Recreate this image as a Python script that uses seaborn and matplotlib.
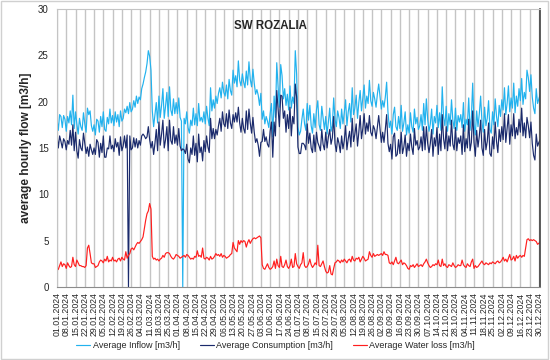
import matplotlib
matplotlib.use("Agg")
import matplotlib.pyplot as plt
from matplotlib.patches import Rectangle
import pandas as pd
import seaborn as sns

# daily values for 2024, one row per month
inflow = [
    18.2, 16.9, 18.6, 18.4, 17.2, 18.5, 18.1, 16.8, 18.4, 17.7, 19.0, 17.5, 20.7, 17.1, 18.9, 17.6, 16.5, 18.2, 17.3, 16.9, 18.8, 17.6, 16.7, 19.3, 18.6, 19.0, 17.4, 16.8, 17.5, 16.4, 18.1,
    17.9, 16.7, 18.4, 17.3, 18.9, 17.0, 16.8, 18.3, 17.6, 19.2, 17.7, 18.5, 17.4, 18.9, 17.8, 18.6, 17.3, 19.0, 17.9, 18.2, 19.2, 18.8, 19.5, 18.7, 19.9, 18.9, 19.2, 20.1, 19.4,
    20.6, 19.8, 20.5, 20.2, 21.4, 21.9, 22.6, 23.2, 24.1, 25.5, 24.9, 23.4, 19.0, 17.3, 18.6, 19.9, 17.7, 20.6, 18.3, 19.6, 21.4, 18.2, 19.5, 21.0, 18.4, 21.6, 19.1, 18.5, 20.3, 18.7, 19.9,
    18.7, 20.4, 18.3, 17.9, 0.0, 18.2, 17.6, 18.9, 17.2, 16.6, 18.0, 17.4, 19.3, 17.5, 18.7, 17.4, 19.8, 17.9, 18.3, 17.8, 18.9, 17.6, 19.5, 18.2, 17.4, 21.5, 19.0, 20.2, 19.3, 20.6,
    19.8, 20.9, 21.5, 20.4, 22.1, 21.0, 20.6, 21.8, 20.3, 22.4, 21.2, 20.7, 23.4, 22.0, 22.8, 21.6, 24.4, 22.3, 21.7, 23.0, 22.1, 21.5, 23.3, 21.8, 24.3, 22.4, 21.6, 23.5, 22.0, 20.8, 21.3,
    20.7, 19.6, 20.9, 18.1, 19.0, 17.6, 18.4, 17.9, 17.2, 18.7, 19.8, 16.2, 20.6, 18.3, 24.2, 21.6, 19.4, 24.0, 22.8, 20.3, 21.4, 19.6, 20.8, 19.1, 21.7, 19.3, 20.5, 19.8, 25.5, 23.0,
    17.3, 16.4, 16.8, 18.1, 19.2, 17.6, 16.9, 19.8, 18.0, 19.6, 17.4, 16.6, 18.7, 17.2, 19.1, 20.1, 17.5, 16.9, 19.5, 18.2, 17.0, 18.4, 16.5, 17.8, 19.3, 16.8, 17.4, 20.4, 18.1, 17.3, 19.0,
    18.3, 17.1, 19.2, 17.6, 18.8, 20.2, 17.4, 18.9, 19.8, 17.8, 21.5, 18.6, 19.3, 20.7, 18.2, 19.9, 21.2, 19.0, 20.4, 21.8, 19.3, 20.6, 19.8, 22.3, 20.1, 19.5, 21.0, 20.3, 19.4, 20.8, 21.9,
    20.6, 19.2, 20.1, 19.4, 20.5, 22.1, 18.9, 17.2, 17.9, 16.5, 18.6, 19.4, 17.3, 16.9, 18.4, 17.1, 19.6, 16.8, 17.7, 18.9, 16.4, 17.5, 16.6, 18.8, 17.3, 16.7, 19.2, 17.6, 18.3, 17.0,
    17.4, 18.6, 16.9, 19.8, 17.5, 20.3, 18.1, 16.8, 17.6, 19.2, 16.5, 18.4, 17.7, 19.6, 17.2, 18.8, 16.9, 21.6, 18.3, 17.4, 19.5, 16.8, 18.7, 17.5, 20.2, 18.0, 17.1, 19.3, 16.9, 18.5, 17.8,
    18.6, 17.2, 19.9, 16.8, 18.1, 17.5, 20.4, 16.9, 18.3, 22.0, 17.6, 16.4, 19.0, 17.3, 18.7, 20.6, 17.8, 16.7, 19.4, 17.4, 18.2, 20.1, 17.0, 16.6, 18.9, 17.5, 20.3, 18.4, 17.3, 19.6,
    18.4, 20.2, 19.1, 21.5, 18.6, 19.8, 21.7, 18.9, 20.4, 19.3, 22.0, 18.8, 20.6, 19.5, 21.4, 20.1, 22.5, 19.7, 21.0, 20.3, 23.4, 22.6, 21.1, 22.9, 20.5, 19.3, 18.7, 21.4, 19.8, 20.3, 20.8,
]

consumption = [
    16.4, 15.0, 16.3, 15.7, 15.0, 16.0, 15.7, 14.8, 15.8, 15.4, 16.9, 15.3, 17.5, 14.7, 16.7, 14.7, 13.9, 15.9, 15.0, 14.7, 16.6, 15.5, 14.4, 15.1, 14.1, 15.4, 14.8, 14.3, 15.0, 14.3, 15.9,
    15.6, 14.0, 15.5, 14.5, 16.3, 14.0, 14.0, 15.0, 14.9, 16.3, 14.9, 15.3, 14.6, 16.0, 15.1, 15.6, 14.2, 16.2, 14.7, 15.2, 16.3, 15.0, 16.4, 0.0, 16.3, 14.8, 15.0, 16.1, 15.1,
    16.0, 15.0, 15.8, 15.3, 16.3, 16.5, 16.3, 16.0, 16.2, 17.3, 15.9, 15.0, 15.7, 14.3, 15.5, 17.0, 14.7, 17.8, 15.3, 16.5, 18.0, 15.0, 15.9, 17.3, 14.7, 18.0, 15.8, 15.4, 17.3, 15.5, 16.4,
    15.3, 17.1, 15.2, 14.7, 14.9, 14.8, 14.4, 15.4, 13.8, 13.4, 15.0, 14.3, 16.3, 14.2, 15.5, 13.5, 16.5, 14.5, 15.1, 13.6, 15.8, 14.6, 16.3, 15.1, 14.5, 18.2, 16.0, 17.1, 16.0, 17.0,
    16.4, 17.4, 18.2, 16.8, 18.9, 17.6, 17.3, 18.7, 17.1, 19.1, 17.7, 17.1, 18.6, 17.8, 18.8, 17.8, 19.4, 17.7, 16.7, 18.2, 17.1, 16.6, 19.0, 17.0, 19.2, 17.7, 16.6, 18.3, 16.7, 15.6, 16.0,
    15.3, 14.1, 15.6, 15.7, 17.0, 15.7, 16.2, 15.4, 15.1, 16.8, 17.8, 14.0, 17.8, 16.3, 21.2, 19.3, 17.3, 20.7, 20.6, 18.2, 19.0, 16.7, 18.6, 17.1, 19.4, 16.3, 18.4, 17.6, 21.9, 20.5,
    15.1, 14.4, 14.4, 15.5, 15.5, 15.3, 14.8, 17.6, 15.5, 16.6, 15.0, 14.5, 16.4, 14.6, 16.7, 15.6, 15.2, 14.7, 17.0, 15.4, 14.8, 16.7, 15.0, 16.2, 17.0, 15.4, 16.1, 18.4, 15.5, 14.6, 16.1,
    15.5, 14.5, 16.3, 14.9, 15.8, 17.4, 14.8, 16.0, 16.8, 15.1, 18.2, 15.7, 16.5, 17.6, 15.2, 16.7, 18.5, 16.0, 17.1, 18.7, 16.5, 17.7, 16.8, 18.5, 16.7, 16.3, 17.4, 17.0, 16.0, 17.3, 18.5,
    17.1, 15.6, 16.7, 15.6, 17.0, 18.6, 15.5, 14.6, 15.4, 13.8, 16.2, 16.6, 14.1, 14.3, 15.9, 14.4, 16.7, 14.4, 15.1, 16.4, 14.1, 15.5, 14.7, 16.5, 15.1, 14.3, 17.1, 15.3, 15.8, 14.8,
    15.1, 16.2, 14.7, 17.3, 14.8, 17.3, 15.5, 14.5, 15.5, 17.0, 14.1, 16.1, 15.2, 17.2, 14.3, 16.5, 14.7, 18.6, 16.0, 14.9, 17.3, 14.7, 16.3, 15.2, 18.0, 15.4, 14.8, 17.2, 14.7, 16.1, 15.5,
    16.3, 14.3, 17.5, 14.6, 16.0, 15.0, 18.1, 14.7, 15.6, 19.0, 15.6, 14.1, 16.9, 15.1, 16.3, 18.0, 15.0, 14.2, 17.0, 14.8, 15.7, 17.7, 14.4, 14.1, 16.2, 14.9, 17.8, 15.7, 14.5, 17.0,
    15.7, 17.3, 15.9, 18.7, 15.6, 17.1, 18.6, 15.4, 17.5, 16.3, 18.7, 16.0, 17.2, 16.4, 18.1, 16.7, 19.3, 16.3, 17.7, 16.1, 18.3, 17.4, 16.1, 17.8, 15.5, 14.2, 13.7, 16.5, 15.2, 15.6, 15.9,
]

water_loss = [
    1.8, 1.9, 2.3, 2.7, 2.2, 2.5, 2.4, 2.0, 2.6, 2.3, 2.1, 2.2, 3.2, 2.4, 2.2, 2.9, 2.6, 2.3, 2.3, 2.2, 2.2, 2.1, 2.3, 4.2, 4.5, 3.6, 2.6, 2.5, 2.5, 2.1, 2.2,
    2.3, 2.7, 2.9, 2.8, 2.6, 3.0, 2.8, 3.3, 2.7, 2.9, 2.8, 3.2, 2.8, 2.9, 2.7, 3.0, 3.1, 2.8, 3.2, 3.0, 2.9, 3.8, 3.1, 3.4, 3.6, 4.1, 4.2, 4.0, 4.3,
    4.6, 4.8, 4.7, 4.9, 5.1, 5.4, 6.3, 7.2, 7.9, 8.2, 9.0, 8.4, 3.3, 3.0, 3.1, 2.9, 3.0, 2.8, 3.0, 3.1, 3.4, 3.2, 3.6, 3.7, 3.7, 3.6, 3.3, 3.1, 3.0, 3.2, 3.5,
    3.4, 3.3, 3.1, 3.2, 3.3, 3.4, 3.2, 3.5, 3.4, 3.2, 3.0, 3.1, 3.0, 3.3, 3.2, 3.9, 3.3, 3.4, 3.2, 4.2, 3.1, 3.0, 3.2, 3.1, 2.9, 3.3, 3.0, 3.1, 3.3, 3.6,
    3.4, 3.5, 3.3, 3.6, 3.2, 3.4, 3.3, 3.1, 3.2, 3.3, 3.5, 3.6, 4.8, 4.2, 4.0, 3.8, 5.0, 4.6, 5.0, 4.8, 5.0, 4.9, 4.3, 4.8, 5.1, 4.7, 5.0, 5.2, 5.3, 5.2, 5.3,
    5.4, 5.5, 5.3, 2.4, 2.0, 1.9, 2.2, 2.5, 2.1, 1.9, 2.0, 2.2, 2.8, 2.0, 3.0, 2.3, 2.1, 3.3, 2.2, 2.1, 2.4, 2.9, 2.2, 2.0, 2.3, 3.0, 2.1, 2.2, 3.6, 2.5,
    2.2, 2.0, 2.4, 2.6, 3.7, 2.3, 2.1, 2.2, 2.5, 3.0, 2.4, 2.1, 2.3, 2.6, 2.4, 4.5, 2.3, 2.2, 2.5, 2.8, 2.2, 1.7, 1.5, 1.6, 2.3, 1.4, 1.3, 2.0, 2.6, 2.7, 2.9,
    2.8, 2.6, 2.9, 2.7, 3.0, 2.8, 2.6, 2.9, 3.0, 2.7, 3.3, 2.9, 2.8, 3.1, 3.0, 3.2, 2.7, 3.0, 3.3, 3.1, 2.8, 2.9, 3.0, 3.8, 3.4, 3.2, 3.6, 3.3, 3.4, 3.5, 3.4,
    3.5, 3.6, 3.4, 3.8, 3.5, 3.5, 3.4, 2.6, 2.5, 2.7, 2.4, 2.8, 3.2, 2.6, 2.5, 2.7, 2.9, 2.4, 2.6, 2.5, 2.3, 2.0, 1.9, 2.3, 2.2, 2.4, 2.1, 2.3, 2.5, 2.2,
    2.3, 2.4, 2.2, 2.5, 2.7, 3.0, 2.6, 2.3, 2.1, 2.2, 2.4, 2.3, 2.5, 2.4, 2.9, 2.3, 2.2, 3.0, 2.3, 2.5, 2.2, 2.1, 2.4, 2.3, 2.2, 2.6, 2.3, 2.1, 2.2, 2.4, 2.3,
    2.3, 2.9, 2.4, 2.2, 2.1, 2.5, 2.3, 2.2, 2.7, 3.0, 2.0, 2.3, 2.1, 2.2, 2.4, 2.6, 2.8, 2.5, 2.4, 2.6, 2.5, 2.4, 2.6, 2.5, 2.7, 2.6, 2.5, 2.7, 2.8, 2.6,
    2.7, 2.9, 3.2, 2.8, 3.0, 2.7, 3.1, 3.5, 2.9, 3.0, 3.3, 2.8, 3.4, 3.1, 3.3, 3.4, 3.2, 3.4, 3.3, 4.2, 5.1, 5.2, 5.0, 5.1, 5.0, 5.1, 5.0, 4.9, 4.6, 4.7, 4.9,
]

series_names = ["Average Inflow [m3/h]", "Average Consumption [m3/h]", "Average Water loss [m3/h]"]
series_colors = ["#22b2ee", "#1a2a6c", "#ff1f1f"]
y_ticks = [0, 5, 10, 15, 20, 25, 30]

dates = pd.date_range("2024-01-01", "2024-12-31", freq="D")
tick_dates = pd.date_range("2024-01-01", "2024-12-30", freq="7D")

sns.set_style("white")
plt.rcParams["font.family"] = ["Liberation Sans", "DejaVu Sans"]

df = pd.DataFrame({
    "date": dates,
    series_names[0]: inflow,
    series_names[1]: consumption,
    series_names[2]: water_loss,
}).melt(id_vars="date", var_name="series", value_name="flow")

fig = plt.figure(figsize=(5.5, 3.6), dpi=100)
ax = fig.add_axes([0.1036, 0.203, 0.8786, 0.772])

sns.lineplot(data=df, x="date", y="flow", hue="series", hue_order=series_names,
             palette=dict(zip(series_names, series_colors)), linewidth=0.85,
             errorbar=None, legend=False, ax=ax)

ax.set_xlim(dates[0], dates[-1])
ax.set_ylim(0, 30)
ax.set_yticks(y_ticks)
ax.set_yticklabels([str(v) for v in y_ticks], fontsize=7)
ax.set_xticks(tick_dates)
ax.set_xticklabels([d.strftime("%d.%m.%Y") for d in tick_dates], rotation=90, fontsize=6.3)
ax.tick_params(axis="x", length=0, pad=4)
ax.tick_params(axis="y", length=0, pad=6)
ax.grid(axis="x", color="#c4c4c4", linewidth=1.0)
ax.grid(axis="y", visible=False)
ax.set_axisbelow(True)

ax.set_xlabel("")
ax.set_ylabel("average hourly flow [m3/h]", fontsize=8.6, fontweight="bold", labelpad=4)

for side in ["top", "left"]:
    ax.spines[side].set_color("#c4c4c4")
ax.spines["bottom"].set_color("#8c8c8c")
ax.spines["right"].set_color("#404040")
ax.spines["right"].set_linewidth(1.2)

ax.text(0.442, 0.94, "SW ROZALIA", transform=ax.transAxes, ha="center", va="center",
        fontsize=8.3, fontweight="bold")

fig.legend(ax.get_lines()[:3], series_names, loc="center", bbox_to_anchor=(0.501, 0.039),
           ncol=3, frameon=False, fontsize=6.5, handlelength=1.55, columnspacing=2.2,
           handletextpad=0.25, borderpad=0.2)

fig.add_artist(Rectangle((0.002, 0.003), 0.995, 0.993, transform=fig.transFigure,
                         fill=False, edgecolor="#d0d0d0", linewidth=1))

fig.savefig("out.png", dpi=100)
